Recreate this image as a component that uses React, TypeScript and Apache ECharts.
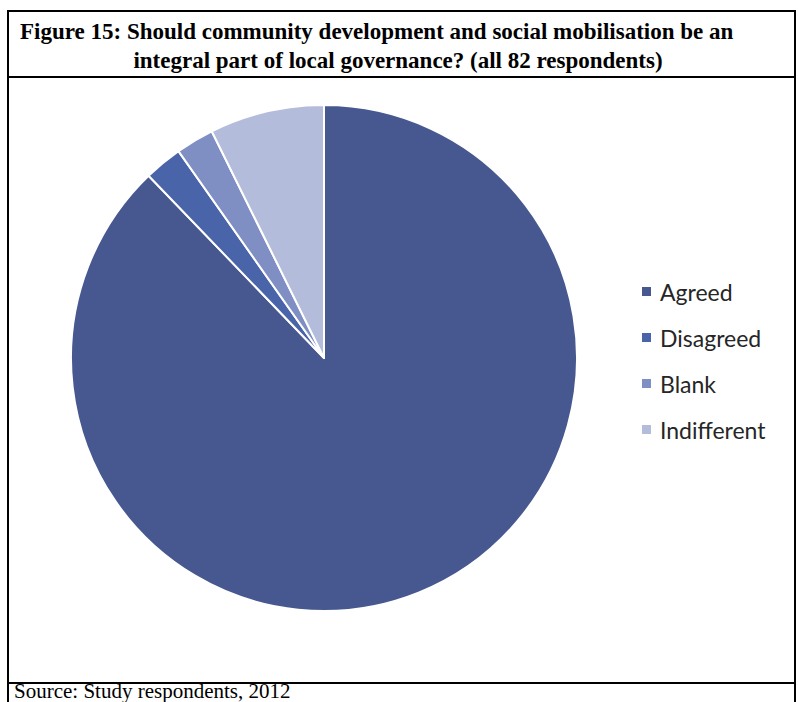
import React, { useEffect, useRef } from "react";
import * as echarts from "echarts";

const categories = ["Agreed", "Disagreed", "Blank", "Indifferent"];
const values = [72, 2, 2, 6];
const colors = ["#46588f", "#4a64a9", "#7f8fc4", "#b3bcda"];
const titleLines = [
  "Figure 15: Should community development and social mobilisation be an",
  "integral part of local governance? (all 82 respondents)",
];
const sourceText = "Source: Study respondents, 2012";

export default function App() {
  const ref = useRef<HTMLDivElement>(null);
  useEffect(() => {
    if (!ref.current) return;
    const chart = echarts.init(ref.current, null, { renderer: "svg" });
    const serif = "'Liberation Serif', 'Times New Roman', serif";
    chart.setOption({
      animation: false,
      backgroundColor: "#ffffff",
      color: colors,
      legend: {
        orient: "vertical",
        left: 635,
        top: 275,
        itemWidth: 11,
        itemHeight: 11,
        itemGap: 23,
        icon: "rect",
        data: categories,
        textStyle: {
          fontFamily: "Lato, 'Open Sans', sans-serif",
          fontSize: 23,
          lineHeight: 23,
          color: "#262626",
          padding: [0, 0, 0, 3],
        },
      },
      series: [
        {
          type: "pie",
          center: [324, 358],
          radius: 253,
          startAngle: 90,
          clockwise: true,
          label: { show: false },
          labelLine: { show: false },
          emphasis: { disabled: true },
          itemStyle: { borderColor: "#ffffff", borderWidth: 2 },
          data: categories.map((c, i) => ({ name: c, value: values[i] })),
        },
      ],
      graphic: [
        {
          type: "rect",
          shape: { x: 8, y: 11, width: 787, height: 700 },
          style: { fill: "none", stroke: "#000", lineWidth: 2 },
          silent: true,
        },
        {
          type: "line",
          shape: { x1: 8, y1: 77, x2: 795, y2: 77 },
          style: { stroke: "#000", lineWidth: 2 },
          silent: true,
        },
        {
          type: "line",
          shape: { x1: 8, y1: 683, x2: 795, y2: 683 },
          style: { stroke: "#000", lineWidth: 2 },
          silent: true,
        },
        {
          type: "text",
          x: 20,
          y: 31,
          style: {
            text: titleLines[0],
            font: `bold 23px ${serif}`,
            fill: "#000",
            align: "left",
            verticalAlign: "middle",
          },
        },
        {
          type: "text",
          x: 398,
          y: 60,
          style: {
            text: titleLines[1],
            font: `bold 23px ${serif}`,
            fill: "#000",
            align: "center",
            verticalAlign: "middle",
          },
        },
        {
          type: "text",
          x: 14,
          y: 691,
          style: {
            text: sourceText,
            font: `21px ${serif}`,
            fill: "#000",
            align: "left",
            verticalAlign: "middle",
          },
        },
      ],
    });
    return () => chart.dispose();
  }, []);
  return (
    <div
      ref={ref}
      style={{ position: "fixed", left: 0, top: 0, width: 798, height: 702 }}
    />
  );
}
